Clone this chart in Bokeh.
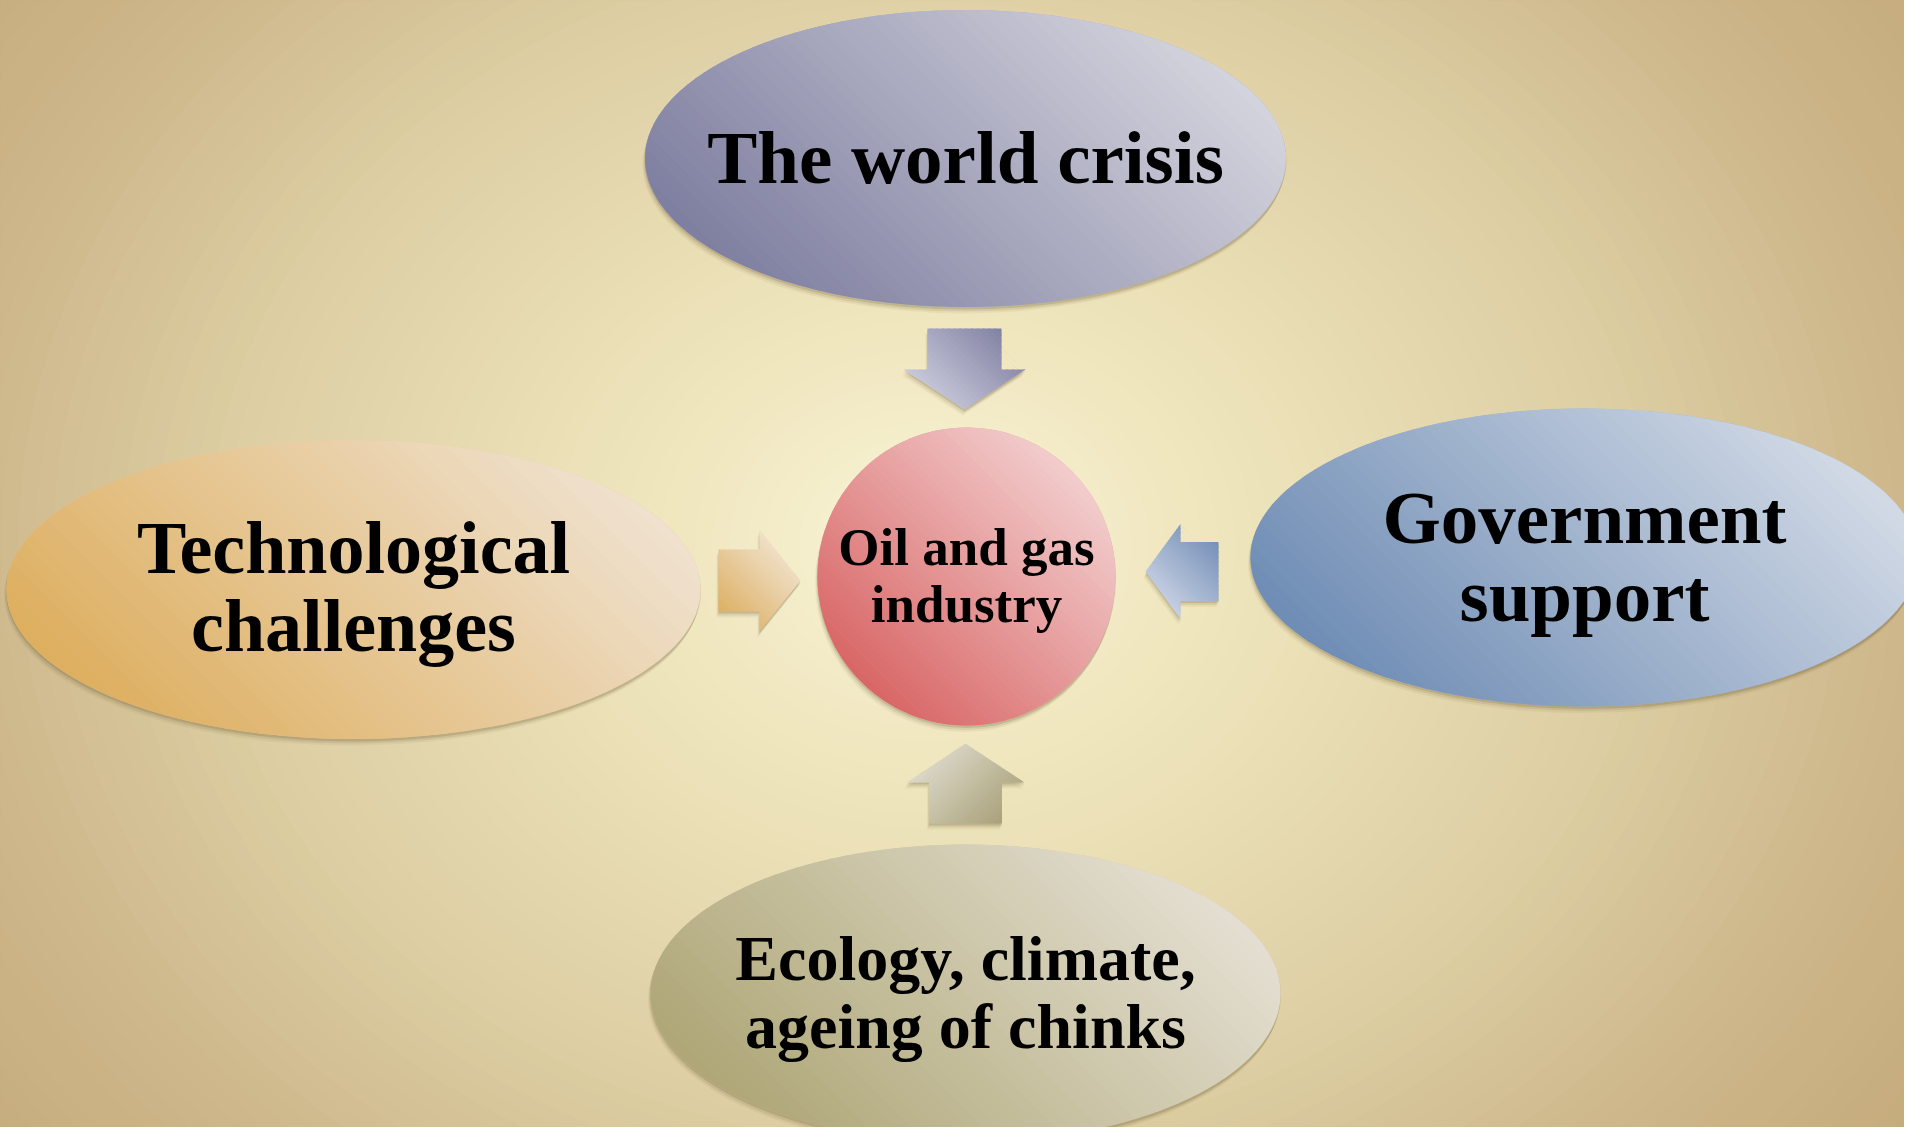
import numpy as np
from bokeh.plotting import figure
from bokeh.models import Range1d
from bokeh.core.properties import value
from bokeh.embed import file_html
from bokeh.resources import INLINE

# ---------------- content ----------------
node_lines = [
    ["The world crisis"],
    ["Technological", "challenges"],
    ["Government", "support"],
    ["Ecology, climate,", "ageing of chinks"],
]
hub_lines = ["Oil and gas", "industry"]

# ---------------- layout (reference pixels, y downwards) ----------------
W, H = 1904, 1127
node_cx = [965, 353, 1584, 965]
node_cy = [158, 589, 557, 993]
node_w = [641, 694, 668, 630]
node_h = [297, 299, 298, 298]
node_font_px = [75, 74, 75, 64]
node_base_off = [24, -16, -15, -13]
node_line_gap = [0, 78, 78, 68]
node_dark = ["#7e7ea0", "#ddae5e", "#6e8cb4", "#aea676"]
node_light = ["#d4d4de", "#f0e2d0", "#d2dae6", "#e4dfd2"]

hub_cx, hub_cy, hub_r = 966, 576, 149
hub_font_px = 53
hub_base_off = -11
hub_line_gap = 57
hub_dark, hub_light = "#d96666", "#f2cdcd"

arrow_tip_x = [964, 800, 1145, 965]
arrow_tip_y = [409, 580, 571, 743]
arrow_dir = [(0, 1), (1, 0), (-1, 0), (0, -1)]
arrow_len = [81, 82, 73, 80]
arrow_head_len = [40, 41, 35, 39]
arrow_shaft_w = [74, 62, 59, 73]
arrow_head_w = [122, 102, 95, 118]
arrow_dark = ["#8282a4", "#ddb064", "#7690b8", "#a9a17a"]
arrow_light = ["#c8c8da", "#f0e0c8", "#c6d0e2", "#dcd8c8"]
arrow_grad = [(-1, 1), (1, -1), (-1, 1), (-1, -1)]

bg_center = (930, 545)
bg_scale = (960, 800)
bg_stop_r = [0.0, 0.33, 0.74, 1.03, 1.3, 1.7]
bg_stop_c = ["#faf5d8", "#eee4bb", "#ddcea3", "#cdb68a", "#c4aa7b", "#c0a576"]

FONT = value("Liberation Serif")
BASELINE_FIX = 0.34  # em shift so that glyph baselines land where measured


# ---------------- helpers ----------------
def hex2rgb(h):
    h = h.lstrip("#")
    return np.array([int(h[i:i + 2], 16) for i in (0, 2, 4)], dtype=float)


def rgb2hex(c):
    c = np.clip(np.round(c), 0, 255).astype(int)
    return "#%02x%02x%02x" % tuple(c)


def mix(a, b, t):
    return rgb2hex(hex2rgb(a) * (1 - t) + hex2rgb(b) * t)


def stops_color(r, rs, cs):
    for i in range(len(rs) - 1):
        if r <= rs[i + 1]:
            t = (r - rs[i]) / (rs[i + 1] - rs[i])
            return mix(cs[i], cs[i + 1], t)
    return cs[-1]


def clip(poly, n, c, ge):
    out = []
    N = len(poly)
    for i in range(N):
        P, Q = poly[i], poly[(i + 1) % N]
        dp, dq = np.dot(n, P) - c, np.dot(n, Q) - c
        if not ge:
            dp, dq = -dp, -dq
        if dp >= 0:
            out.append(P)
        if (dp >= 0) != (dq >= 0):
            t = dp / (dp - dq)
            out.append(P + t * (Q - P))
    return out


def gradient_strips(poly, direction, dark, light, n=48):
    d = np.array(direction, dtype=float)
    d /= np.linalg.norm(d)
    poly = [np.array(p, dtype=float) for p in poly]
    s = [np.dot(d, p) for p in poly]
    smin, smax = min(s), max(s)
    step = (smax - smin) / n
    xs, ys, cols = [], [], []
    for k in range(n):
        s0 = smin + k * step
        s1 = s0 + step + 1.2
        part = clip(poly, d, s0, True)
        if len(part) < 3:
            continue
        part = clip(part, d, s1, False)
        if len(part) < 3:
            continue
        xs.append([p[0] for p in part])
        ys.append([p[1] for p in part])
        cols.append(mix(dark, light, (k + 0.5) / n))
    return xs, ys, cols


def ellipse_poly(cx, cy, w, h, m=240):
    a = np.linspace(0, 2 * np.pi, m, endpoint=False)
    return list(zip(cx + w / 2 * np.cos(a), cy + h / 2 * np.sin(a)))


def arrow_poly(tx, ty, u, L, hl, sw, hw):
    T = np.array([tx, ty], dtype=float)
    u = np.array(u, dtype=float)
    v = np.array([-u[1], u[0]])
    B = T - u * L
    Hb = T - u * hl
    return [B + v * sw / 2, Hb + v * sw / 2, Hb + v * hw / 2, T,
            Hb - v * hw / 2, Hb - v * sw / 2, B - v * sw / 2]


# ---------------- figure ----------------
p = figure(width=W, height=H,
           x_range=Range1d(0, W), y_range=Range1d(H, 0),
           output_backend="svg", toolbar_location=None,
           x_axis_location=None, y_axis_location=None,
           min_border=0)
p.grid.visible = False
p.outline_line_color = None
p.background_fill_color = bg_stop_c[-1]
p.border_fill_color = bg_stop_c[-1]

# background radial gradient (concentric ellipses)
rs = np.linspace(1.8, 0.01, 100)
p.ellipse(x=[bg_center[0]] * len(rs), y=[bg_center[1]] * len(rs),
          width=list(rs * 2 * bg_scale[0]), height=list(rs * 2 * bg_scale[1]),
          fill_color=[stops_color(r, bg_stop_r, bg_stop_c) for r in rs],
          line_color=None)

# soft drop shadows
for off, a in [((0, 2), 0.16), ((-1, 4), 0.10), ((-2, 6), 0.06)]:
    p.ellipse(x=[c + off[0] for c in node_cx], y=[c + off[1] for c in node_cy],
              width=[w + 1 for w in node_w], height=[h + 1 for h in node_h],
              fill_color="#5a4420", fill_alpha=a, line_color=None)
    p.ellipse(x=[hub_cx + off[0]], y=[hub_cy + off[1]],
              width=[2 * hub_r + 1], height=[2 * hub_r + 1],
              fill_color="#5a4420", fill_alpha=a, line_color=None)
    axs, ays = [], []
    for i in range(4):
        pts = arrow_poly(arrow_tip_x[i], arrow_tip_y[i], arrow_dir[i], arrow_len[i],
                         arrow_head_len[i], arrow_shaft_w[i], arrow_head_w[i])
        axs.append([q[0] + off[0] for q in pts])
        ays.append([q[1] + off[1] for q in pts])
    p.patches(xs=axs, ys=ays, fill_color="#5a4420", fill_alpha=a, line_color=None)

# nodes (ellipses with diagonal gradient)
for i in range(4):
    p.ellipse(x=[node_cx[i]], y=[node_cy[i]], width=[node_w[i]], height=[node_h[i]],
              fill_color=mix(node_dark[i], node_light[i], 0.5), line_color=None)
    xs, ys, cols = gradient_strips(ellipse_poly(node_cx[i], node_cy[i], node_w[i], node_h[i]),
                                   (1, -1), node_dark[i], node_light[i])
    p.patches(xs=xs, ys=ys, fill_color=cols, line_color=None)

# hub circle
p.ellipse(x=[hub_cx], y=[hub_cy], width=[2 * hub_r], height=[2 * hub_r],
          fill_color=mix(hub_dark, hub_light, 0.5), line_color=None)
xs, ys, cols = gradient_strips(ellipse_poly(hub_cx, hub_cy, 2 * hub_r, 2 * hub_r),
                               (1, -1), hub_dark, hub_light)
p.patches(xs=xs, ys=ys, fill_color=cols, line_color=None)

# arrows
for i in range(4):
    pts = arrow_poly(arrow_tip_x[i], arrow_tip_y[i], arrow_dir[i], arrow_len[i],
                     arrow_head_len[i], arrow_shaft_w[i], arrow_head_w[i])
    xs, ys, cols = gradient_strips(pts, arrow_grad[i], arrow_dark[i], arrow_light[i], n=24)
    p.patches(xs=xs, ys=ys, fill_color=cols, line_color=None)

# texts
for i in range(4):
    fs = node_font_px[i]
    tx, ty, tt = [], [], []
    for j, line in enumerate(node_lines[i]):
        tx.append(node_cx[i])
        ty.append(node_cy[i] + node_base_off[i] + j * node_line_gap[i] - BASELINE_FIX * fs)
        tt.append(line)
    p.text(x=tx, y=ty, text=tt, text_font=FONT, text_font_style="bold",
           text_font_size=value(f"{fs}px"), text_color="black",
           text_align="center", text_baseline="alphabetic")

p.text(x=[hub_cx] * len(hub_lines),
       y=[hub_cy + hub_base_off + j * hub_line_gap - BASELINE_FIX * hub_font_px
          for j in range(len(hub_lines))],
       text=hub_lines, text_font=FONT, text_font_style="bold",
       text_font_size=value(f"{hub_font_px}px"), text_color="black",
       text_align="center", text_baseline="alphabetic")

open("out.html", "w").write(file_html(p, INLINE))
